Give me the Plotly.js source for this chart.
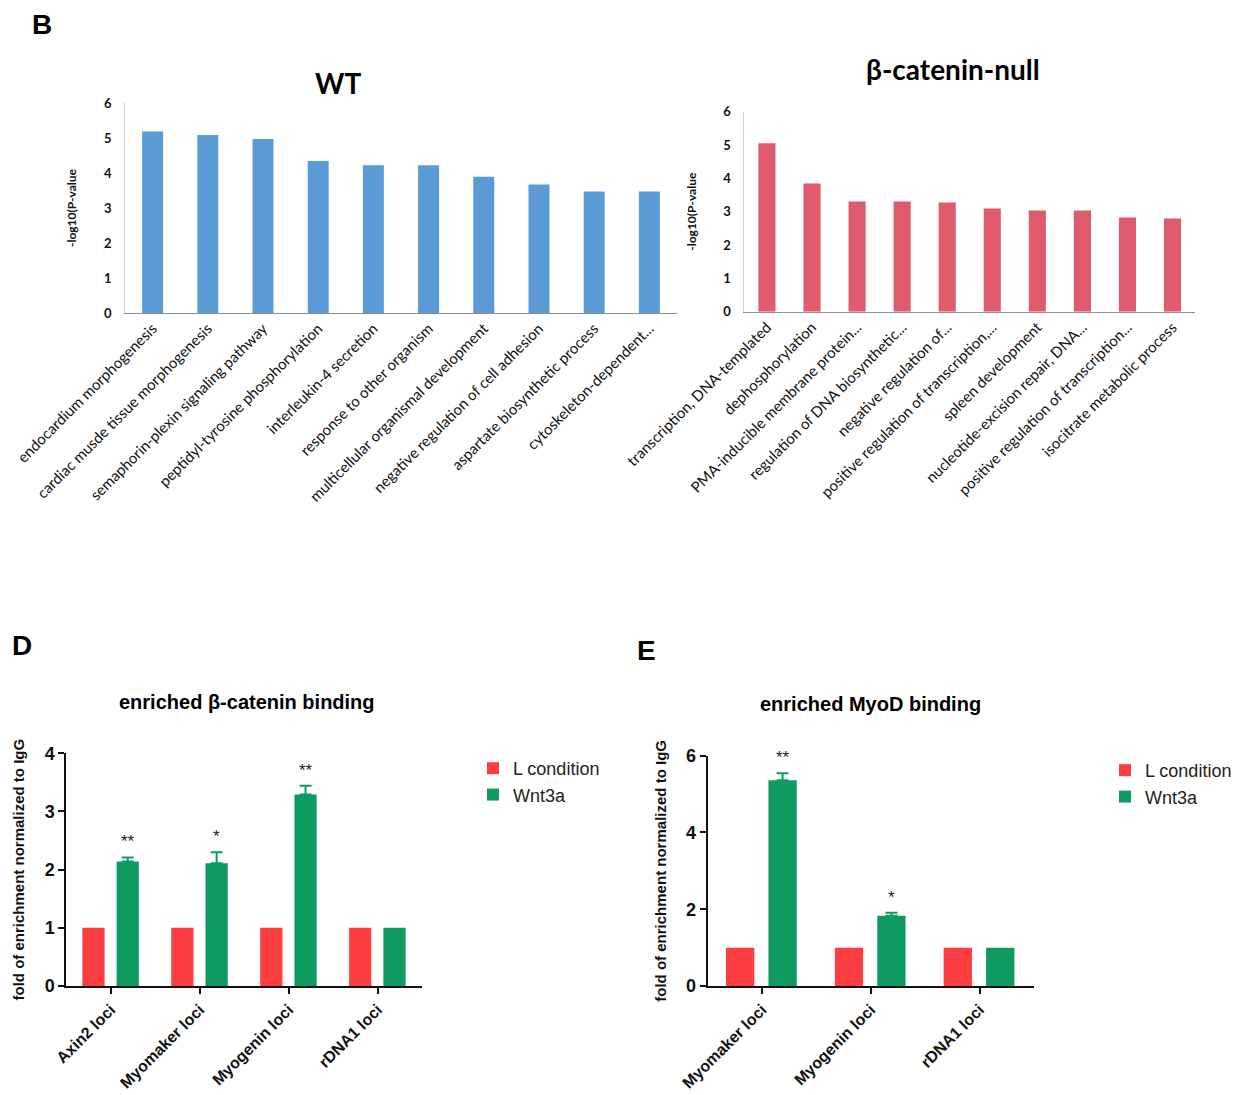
<!DOCTYPE html>
<html>
<head>
<meta charset="utf-8">
<script src="https://cdn.plot.ly/plotly-3.0.1.min.js"></script>
<style>html,body{margin:0;padding:0;background:#fff;}#chart{width:1238px;height:1095px;}</style>
</head>
<body>
<div id="chart"></div>
<script>
// ---------- data ----------
const wtTerms = [
  'endocardium morphogenesis',
  'cardiac musde tissue morphogenesis',
  'semaphorin-plexin signaling pathway',
  'peptidyl-tyrosine phosphorylation',
  'interleukin-4 secretion',
  'response to other organism',
  'multicellular organismal development',
  'negative regulation of cell adhesion',
  'aspartate biosynthetic process',
  'cytoskeleton-dependent...'
];
const wtValues = [5.19, 5.09, 4.97, 4.34, 4.22, 4.22, 3.89, 3.67, 3.47, 3.47];

const nullTerms = [
  'transcription, DNA-templated',
  'dephosphorylation',
  'PMA-inducible membrane protein...',
  'regulation of DNA biosynthetic...',
  'negative regulation of...',
  'positive regulation of transcription,...',
  'spleen development',
  'nucleotide-excision repair, DNA...',
  'positive regulation of transcription...',
  'isocitrate metabolic process'
];
const nullValues = [5.05, 3.85, 3.31, 3.31, 3.28, 3.10, 3.04, 3.04, 2.83, 2.80];

const seriesNames = ['L condition', 'Wnt3a'];

const dLoci = ['Axin2 loci', 'Myomaker loci', 'Myogenin loci', 'rDNA1 loci'];
const dControl = [1, 1, 1, 1];
const dWnt = [2.14, 2.11, 3.29, 1.0];
const dWntErr = [0.07, 0.19, 0.15, NaN];   // NaN: no error bar drawn
const dStars = ['**', '*', '**', ''];

const eLoci = ['Myomaker loci', 'Myogenin loci', 'rDNA1 loci'];
const eControl = [1, 1, 1];
const eWnt = [5.36, 1.83, 1.0];
const eWntErr = [0.18, 0.08, NaN];
const eStars = ['**', '*', ''];

// ---------- styles ----------
const BLUE = '#5b9bd5', PINK = '#e05a6e', RED = '#fc3d41', GREEN = '#0f9a62';
const CAL = 'Lato, "Open Sans", sans-serif';
const ARIAL = '"Liberation Sans", Arial, sans-serif';
const grpW = 0.25, redOff = -0.32, greenOff = 0.065;
const eW = 0.26, eRedOff = -0.33, eGreenOff = 0.06;
const upOnly = arr => arr.map(v => (isNaN(v) ? NaN : 0));

const traces = [
  {type:'bar', x: wtTerms, y: wtValues, xaxis:'x', yaxis:'y', width:0.38,
   marker:{color:BLUE}, showlegend:false, hoverinfo:'x+y'},
  {type:'bar', x: nullTerms, y: nullValues, xaxis:'x2', yaxis:'y2', width:0.38,
   marker:{color:PINK}, showlegend:false, hoverinfo:'x+y'},
  {type:'bar', name: seriesNames[0], x: dLoci, y: dControl, xaxis:'x3', yaxis:'y3',
   width:grpW, offset:redOff, marker:{color:RED}, legend:'legend', legendgroup:'a'},
  {type:'bar', name: seriesNames[1], x: dLoci, y: dWnt, xaxis:'x3', yaxis:'y3',
   width:grpW, offset:greenOff, marker:{color:GREEN}, legend:'legend', legendgroup:'b',
   error_y:{type:'data', array:dWntErr, symmetric:false, arrayminus:upOnly(dWntErr),
            color:GREEN, thickness:2, width:6}},
  {type:'bar', name: seriesNames[0], x: eLoci, y: eControl, xaxis:'x4', yaxis:'y4',
   width:eW, offset:eRedOff, marker:{color:RED}, legend:'legend2', legendgroup:'c'},
  {type:'bar', name: seriesNames[1], x: eLoci, y: eWnt, xaxis:'x4', yaxis:'y4',
   width:eW, offset:eGreenOff, marker:{color:GREEN}, legend:'legend2', legendgroup:'d',
   error_y:{type:'data', array:eWntErr, symmetric:false, arrayminus:upOnly(eWntErr),
            color:GREEN, thickness:2, width:6}}
];

const topX = {type:'category', tickangle:-45, showline:true, linecolor:'#8c8c8c', linewidth:1,
  ticks:'', showgrid:false, zeroline:false, range:[-0.5, 9.5],
  tickfont:{family:CAL, size:15, color:'#111'}, fixedrange:true};
const topY = {range:[0,6], dtick:1, showline:true, linecolor:'#cfcfcf', linewidth:1,
  showgrid:false, zeroline:false, ticks:'', ticklabelstandoff:10,
  tickfont:{family:CAL, size:13, color:'#111', weight:'bold'}, fixedrange:true};
const botX = {type:'category', tickangle:-45, showline:true, linecolor:'#111', linewidth:2,
  ticks:'outside', ticklen:6, tickwidth:2, tickcolor:'#111', showgrid:false, zeroline:false,
  tickfont:{family:ARIAL, size:16, color:'#111', weight:'bold'}, fixedrange:true};
const botY = {showline:true, linecolor:'#111', linewidth:2, ticks:'outside', ticklen:6,
  tickwidth:2, tickcolor:'#111', showgrid:false, zeroline:false,
  tickfont:{family:ARIAL, size:18, color:'#111', weight:'bold'}, fixedrange:true};

const yTitleTop = {text:'-log10(P-value', font:{family:CAL, size:12, color:'#111', weight:'bold'}};
const yTitleBot = {text:'fold of enrichment normalized to IgG', font:{family:ARIAL, size:15, color:'#111', weight:'bold'}};

function label(text, x, y, family, size) {
  return {text:text, xref:'paper', yref:'paper', x:x/1238, y:1-y/1095, xanchor:'center', yanchor:'middle',
    showarrow:false, font:{family:family, size:size, color:'#000', weight:'bold'}};
}
const annotations = [
  label('B', 42, 25, ARIAL, 28),
  label('D', 22, 645, ARIAL, 28),
  label('E', 646, 650, ARIAL, 28),
  label('WT', 338, 83, CAL, 28),
  label('β-catenin-null', 953, 69, CAL, 28),
  label('enriched β-catenin binding', 247, 702, ARIAL, 20),
  label('enriched MyoD binding', 870, 704, ARIAL, 20)
];
dStars.forEach((s, i) => { if (s) annotations.push({text:s, xref:'x3', yref:'y3', x:i + greenOff + grpW/2,
  y:dWnt[i] + dWntErr[i], xanchor:'center', yanchor:'bottom', yshift:4, showarrow:false,
  font:{family:ARIAL, size:17, color:'#222'}}); });
eStars.forEach((s, i) => { if (s) annotations.push({text:s, xref:'x4', yref:'y4', x:i + eGreenOff + eW/2,
  y:eWnt[i] + eWntErr[i], xanchor:'center', yanchor:'bottom', yshift:4, showarrow:false,
  font:{family:ARIAL, size:17, color:'#222'}}); });

const layout = {
  width:1238, height:1095, margin:{l:0, r:0, t:0, b:0},
  paper_bgcolor:'#fff', plot_bgcolor:'#fff', barmode:'group', showlegend:true,
  xaxis: Object.assign({}, topX, {domain:[0.1010, 0.5468], anchor:'y'}),
  yaxis: Object.assign({}, topY, {domain:[0.7142, 0.9059], anchor:'x', title:Object.assign({standoff:24}, yTitleTop)}),
  xaxis2: Object.assign({}, topX, {domain:[0.6013, 0.9653], anchor:'y2'}),
  yaxis2: Object.assign({}, topY, {domain:[0.7153, 0.8980], anchor:'x2', title:Object.assign({standoff:24}, yTitleTop)}),
  xaxis3: Object.assign({}, botX, {domain:[0.0536, 0.3409], anchor:'y3', range:[-0.5, 3.5]}),
  yaxis3: Object.assign({}, botY, {domain:[0.0995, 0.3121], anchor:'x3', range:[0,4], dtick:1, title:Object.assign({standoff:16}, yTitleBot)}),
  xaxis4: Object.assign({}, botX, {domain:[0.5715, 0.8352], anchor:'y4', range:[-0.5, 2.5]}),
  yaxis4: Object.assign({}, botY, {domain:[0.0995, 0.3099], anchor:'x4', range:[0,6], dtick:2, title:Object.assign({standoff:16}, yTitleBot)}),
  legend:{x:473/1238, y:1-750/1095, xanchor:'left', yanchor:'top', bgcolor:'rgba(0,0,0,0)',
    font:{family:ARIAL, size:18, color:'#222'}, tracegroupgap:17, traceorder:'normal'},
  legend2:{x:1105/1238, y:1-752/1095, xanchor:'left', yanchor:'top', bgcolor:'rgba(0,0,0,0)',
    font:{family:ARIAL, size:18, color:'#222'}, tracegroupgap:17, traceorder:'normal'},
  annotations: annotations
};

Plotly.newPlot('chart', traces, layout, {staticPlot:true, displayModeBar:false});
</script>
</body>
</html>
